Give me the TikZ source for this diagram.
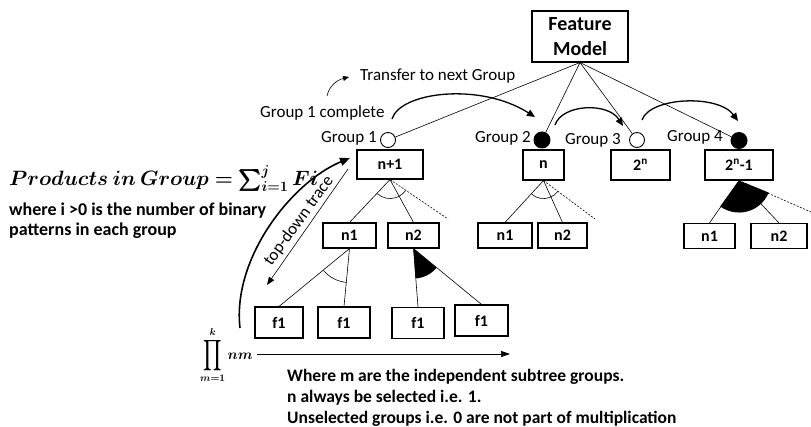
\documentclass[tikz,border=0pt]{standalone}
\usepackage{fontspec}
\setmainfont{Carlito}
\usepackage{amsmath,bm}
\usepackage{graphicx}
\usetikzlibrary{arrows.meta,calc}
\begin{document}
\begin{tikzpicture}[x=1pt,y=1pt,
  fbox/.style={draw, line width=1.1pt, inner sep=0pt, font=\fontsize{16}{18}\selectfont\bfseries},
  lbl/.style={font=\fontsize{17}{20}\selectfont, inner sep=0pt},
  btxt/.style={font=\fontsize{17.5}{21}\selectfont\bfseries, inner sep=0pt, align=left},
  wcirc/.style={circle, draw, line width=0.9pt, fill=white, minimum size=15pt, inner sep=0pt},
  bcirc/.style={circle, fill=black, minimum size=17pt, inner sep=0pt},
  tline/.style={line width=0.6pt},
  dline/.style={line width=0.6pt, dash pattern=on 2pt off 1.5pt},
  harrow/.style={line width=1.3pt, -{Triangle[length=8pt,width=7pt]}},
]
\useasboundingbox (0,0) rectangle (811,-427);
\fill[white] (0,0) rectangle (811,-427);

% root
\node[fbox, minimum width=96pt, minimum height=51pt, align=center, font=\fontsize{20}{25}\selectfont\bfseries] (fm) at (580,-36.5) {Feature\\Model};

% group circles
\node[wcirc] (c1) at (388,-140) {};
\node[bcirc] (c2) at (542,-140) {};
\node[wcirc] (c3) at (637,-140) {};
\node[bcirc] (c4) at (739,-140.5) {};

\node[lbl, anchor=east] (l1) at (377,-138) {Group 1};
\node[lbl, anchor=east] (l2) at (531,-138) {Group 2};
\node[lbl, anchor=east] (l3) at (621,-140) {Group 3};
\node[lbl, anchor=east] (l4) at (723,-137) {Group 4};

\draw[tline] (fm.south) -- (c1);
\draw[tline] (fm.south) -- (c2);
\draw[tline] (fm.south) -- (c3);
\draw[tline] (fm.south) -- (c4);

% first level boxes
\node[fbox, minimum width=66pt, minimum height=29pt] (b1) at (390,-164.5) {n+1};
\node[fbox, minimum width=41pt, minimum height=30pt] (b2) at (543.5,-165) {n};
\node[fbox, minimum width=59pt, minimum height=30pt] (b3) at (640.5,-165) {2\textsuperscript{n}};
\node[fbox, minimum width=68pt, minimum height=30pt] (b4) at (739,-165) {2\textsuperscript{n}-1};

% second level boxes
\node[fbox, minimum width=53pt, minimum height=25pt] (a1) at (349.5,-235.5) {n1};
\node[fbox, minimum width=51pt, minimum height=25pt] (a2) at (413.5,-235.5) {n2};
\node[fbox, minimum width=54pt, minimum height=25pt] (m1) at (505,-235.5) {n1};
\node[fbox, minimum width=49pt, minimum height=25pt] (m2) at (562.5,-235.5) {n2};
\node[fbox, minimum width=51pt, minimum height=25pt] (r1) at (709.5,-236) {n1};
\node[fbox, minimum width=56pt, minimum height=25pt] (r2) at (779,-236) {n2};

% leaves
\node[fbox, minimum width=48pt, minimum height=31pt] (f1) at (279,-322.5) {f1};
\node[fbox, minimum width=52pt, minimum height=31pt] (f2) at (344,-322.5) {f1};
\node[fbox, minimum width=52pt, minimum height=31pt] (f3) at (418,-323) {f1};
\node[fbox, minimum width=53pt, minimum height=31pt] (f4) at (481.5,-320.5) {f1};

\coordinate (d1) at (448,-219);
\coordinate (d2) at (595,-219);
\coordinate (d4) at (811,-212);

\draw[tline] (b1.south) -- (a1.north);
\draw[tline] (b1.south) -- (a2.north);
\draw[dline] (b1.south) -- (d1);
\draw[tline] (b2.south) -- (m1.north);
\draw[tline] (b2.south) -- (m2.north);
\draw[dline] (b2.south) -- (d2);
\draw[tline] (b4.south) -- (r1.north);
\draw[tline] (b4.south) -- (r2.north);
\draw[dline] (b4.south) -- (d4);
\draw[tline] (a1.south) -- (f1.north);
\draw[tline] (a1.south) -- (f2.north);
\draw[tline] (a2.south) -- (f3.north);
\draw[tline] (a2.south) -- (f4.north);

% arcs and sectors
\draw[tline] ($(b1.south)+(-132:19)$) arc[start angle=-132, end angle=-35, radius=19];
\draw[tline] ($(b2.south)+(-131:18)$) arc[start angle=-131, end angle=-37, radius=18];
\draw[tline] ($(a1.south)+(-140:34)$) arc[start angle=-140, end angle=-95, radius=34];
\fill (a2.south) -- ++(-86:30) arc[start angle=-86, end angle=-40, radius=30] -- cycle;
\fill (b4.south) -- ++(-126:32) arc[start angle=-126, end angle=-22, radius=32] -- cycle;

% transfer arrows
\node[lbl, anchor=west] (tr) at (360,-76) {Transfer to next Group};
\node[lbl, anchor=west] (gc) at (260,-113) {Group 1 complete};
\coordinate (s0) at (327,-96);
\coordinate (s1) at (349,-77);
\draw[line width=0.6pt, -{Triangle[length=6pt,width=5pt]}] (s0) .. controls (329,-86) and (337,-80) .. (s1);
\coordinate (p1) at (392,-119);
\coordinate (p2) at (535,-117);
\draw[harrow] (p1) .. controls (400,-92) and (480,-82) .. (p2);
\coordinate (q1) at (555,-125);
\coordinate (q2) at (623,-126);
\draw[harrow] (q1) .. controls (562,-104) and (608,-102) .. (q2);
\coordinate (u1) at (642,-120);
\coordinate (u2) at (738,-121);
\draw[harrow] (u1) .. controls (650,-97) and (718,-94) .. (u2);

% top-down trace
\node[lbl, rotate=54] (td) at (299,-221) {top-down trace};
\coordinate (t0) at (348,-169);
\coordinate (t1) at (267,-285);
\draw[line width=0.6pt, -{Triangle[length=8pt,width=6pt]}] (t0) -- (t1);
\coordinate (k0) at (240,-328);
\coordinate (k1) at (350,-158);
\draw[line width=1.6pt, -{Triangle[length=10pt,width=8pt]}] (k0) .. controls (232,-258) and (292,-182) .. (k1);

% left formulas
\node[anchor=base west, inner sep=0pt] (pf) at (9,-186) {\fontsize{19.5}{22}\selectfont $\bm{Products\ in\ Group = \sum_{i=1}^{j} Fi}$};
\node[btxt, font=\fontsize{18}{19.5}\selectfont\bfseries, anchor=north west] (wt) at (9,-203) {where i >0 is the number of binary\\patterns in each group};

% product and axis
\node[anchor=west, inner sep=0pt] (pr) at (200,-355) {\fontsize{14}{16}\selectfont$\displaystyle\mathop{\vcenter{\hbox{\scalebox{1}[1.5]{$\displaystyle\prod$}}}}\limits_{\bm{m=1}}^{\bm{k}}\bm{nm}$};
\coordinate (ax) at (510,-354);
\draw[line width=0.7pt, -{Triangle[length=9pt,width=6pt]}, shorten <=4pt] (pr.east |- ax) -- (ax);

\node[btxt, anchor=north west] (bt) at (287,-369) {Where m are the independent subtree groups.\\n always be selected i.e. 1.\\Unselected groups i.e. 0 are not part of multiplication};
\end{tikzpicture}
\end{document}
